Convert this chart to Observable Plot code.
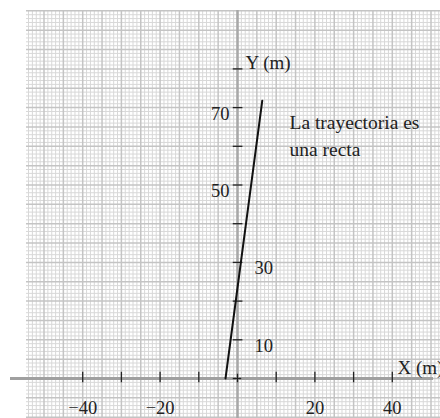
<!DOCTYPE html>
<html>
<head>
<meta charset="utf-8">
<script src="https://cdn.jsdelivr.net/npm/d3@7"></script>
<script src="https://cdn.jsdelivr.net/npm/@observablehq/plot@0.6"></script>
<style>
  html, body { margin: 0; padding: 0; background: #fff; }
  #chart svg { display: block; }
</style>
</head>
<body>
<div id="chart"></div>
<script>
// Trajectory (straight line) endpoints, metres
const trajX = [-3.1, 6.4];
const trajY = [0, 71.8];

// Axis tick values and labels
const xTickValues = [-40, -30, -20, -10, 10, 20, 30, 40];
const xLabelValues = [-40, -20, 20, 40];
const xLabelTexts = ["\u221240", "\u221220", "20", "40"];
const yTickValues = [10, 20, 30, 40, 50, 60, 70, 80];
const yLabelRight = [10, 30];
const yLabelLeft = [50, 70];

// Annotations
const axisTitles = ["X (m)", "Y (m)"];
const noteText = ["La trayectoria es", "una recta"];

// Scale setup
const W = 440, H = 418;
const ox = 237, oy = 378, k = 3.87;
const xDomain = [(0 - ox) / k, (W - ox) / k];
const yDomain = [(oy - H) / k, (oy - 0) / k];
const gx0 = (26 - ox) / k, gx1 = (W - ox) / k;
const gy0 = (oy - H) / k, gy1 = (oy - 10) / k;

const gridX = d3.range(Math.ceil(gx0), Math.floor(gx1) + 1);
const gridY = d3.range(Math.ceil(gy0), Math.floor(gy1) + 1);

const font = "'Liberation Serif', 'DejaVu Serif', serif";

const plot = Plot.plot({
  width: W,
  height: H,
  margin: 0,
  x: { domain: xDomain, range: [0, W], axis: null },
  y: { domain: yDomain, range: [H, 0], axis: null },
  style: { fontFamily: font, background: "#fff" },
  marks: [
    // fine grid
    Plot.ruleX(gridX.filter(d => d % 5 !== 0), { y1: gy0, y2: gy1, stroke: "#d8d8d8", strokeWidth: 1 }),
    Plot.ruleY(gridY.filter(d => d % 5 !== 0), { x1: gx0, x2: gx1, stroke: "#d8d8d8", strokeWidth: 1 }),
    // heavier grid every 5
    Plot.ruleX(gridX.filter(d => d % 5 === 0), { y1: gy0, y2: gy1, stroke: "#c4c4c4", strokeWidth: 1.5 }),
    Plot.ruleY(gridY.filter(d => d % 5 === 0), { x1: gx0, x2: gx1, stroke: "#c4c4c4", strokeWidth: 1.5 }),
    // axes
    Plot.ruleY([0], { x1: (10 - ox) / k, x2: (433 - ox) / k, stroke: "#a0a0a0", strokeWidth: 3 }),
    Plot.ruleX([0], { y1: gy0, y2: gy1, stroke: "#a8a8a8", strokeWidth: 2.5 }),
    // ticks
    Plot.ruleX(xTickValues, { y1: -1.1, y2: 1.6, stroke: "#222", strokeWidth: 1.3 }),
    Plot.ruleY(yTickValues, { x1: -1.1, x2: 1.4, stroke: "#222", strokeWidth: 1.3 }),
    Plot.ruleX([0], { y1: -1.1, y2: 1.1, stroke: "#222", strokeWidth: 1.3 }),
    Plot.ruleY([0], { x1: -1.1, x2: 1.1, stroke: "#222", strokeWidth: 1.3 }),
    // trajectory
    Plot.line(trajX.map((x, i) => ({ x, y: trajY[i] })), { x: "x", y: "y", stroke: "#111", strokeWidth: 2 }),
    // x labels
    Plot.text(xLabelValues, {
      x: d => d, y: -7.7,
      text: (d, i) => xLabelTexts[i],
      fontSize: 18.5, fill: "#222", textAnchor: "middle"
    }),
    // y labels
    Plot.text(yLabelRight, { x: 0, y: d => d, text: d => String(d), dx: 17, dy: 6, textAnchor: "start", fontSize: 18.5, fill: "#222" }),
    Plot.text(yLabelLeft, { x: 0, y: d => d, text: d => String(d), dx: -8, dy: 6, textAnchor: "end", fontSize: 18.5, fill: "#222" }),
    // axis titles
    Plot.text([axisTitles[0]], { x: (397 - ox) / k, y: (oy - 367) / k, text: d => d, textAnchor: "start", fontSize: 19, fill: "#222", style: "letter-spacing:0.5px" }),
    Plot.text([axisTitles[1]], { x: (245 - ox) / k, y: (oy - 62) / k, text: d => d, textAnchor: "start", fontSize: 19, fill: "#222", style: "letter-spacing:0.5px" }),
    // note
    Plot.text([noteText.join("\n")], {
      x: (289 - ox) / k, y: (oy - 133) / k,
      text: d => d, textAnchor: "start", lineAnchor: "middle", lineHeight: 1.4,
      fontSize: 19.5, fill: "#222"
    })
  ]
});

document.getElementById("chart").appendChild(plot);
</script>
</body>
</html>
